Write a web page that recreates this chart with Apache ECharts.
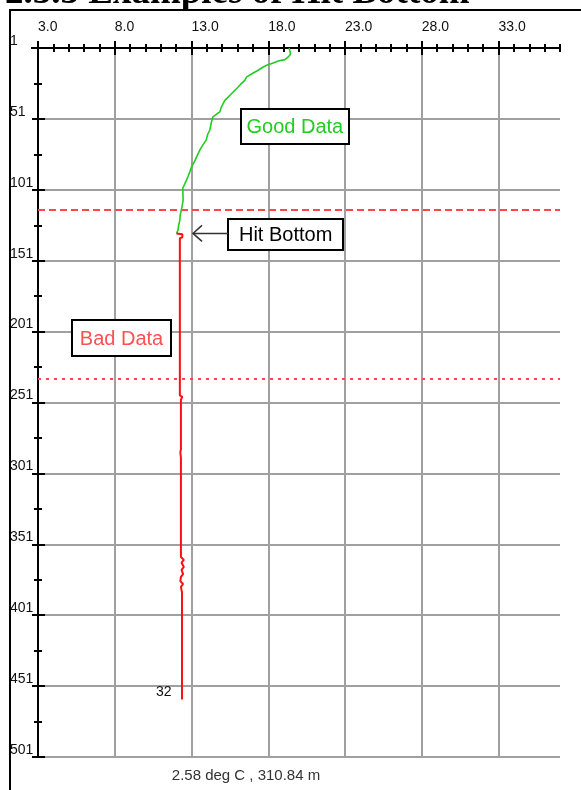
<!DOCTYPE html>
<html><head><meta charset="utf-8">
<script src="https://cdn.jsdelivr.net/npm/echarts@6/dist/echarts.min.js"></script>
<style>html,body{margin:0;padding:0;background:#fff;}#c{width:581px;height:790px;}</style>
</head><body><div id="c"></div>
<script>
// ---------- data ----------
const titleText = '2.3.3 Examples of Hit Bottom';
const readoutText = '2.58 deg C , 310.84 m';
const profileId = '32';
const xMajorTicks = [3, 8, 13, 18, 23, 28, 33];
const xMinorTicks = [3,4,5,6,7,8,9,10,11,12,13,14,15,16,17,18,19,20,21,22,23,24,25,26,27,28,29,30,31,32,33,34,35,36,37];
const yMajorTicks = [1, 51, 101, 151, 201, 251, 301, 351, 401, 451, 501];
const yMinorTicks = [26, 76, 126, 176, 226, 276, 326, 376, 426, 476];
const goodDepth = [1, 5.4, 7.3, 9.2, 10.2, 11.6, 13.2, 14.4, 16.7, 18.6, 21.4, 23.8, 26.5, 28.5, 32, 34.3, 37.9, 39.1, 42.5, 46.1, 49.6, 53, 58.9, 62, 66, 70, 73, 77.8, 81, 84.9, 88, 92, 94.2, 99.9, 104, 108.5, 113, 118.9, 122.4, 126, 129.4, 131.8];
const goodTemp  = [19.36, 19.45, 19.3, 19.08, 18.65, 18.32, 17.89, 17.67, 17.34, 17.02, 16.59, 16.47, 16.2, 16.04, 15.71, 15.5, 15.17, 15.04, 14.95, 14.84, 14.39, 14.3, 14.19, 14.05, 13.95, 13.7, 13.54, 13.33, 13.2, 13.0, 12.9, 12.76, 12.67, 12.43, 12.44, 12.45, 12.38, 12.26, 12.24, 12.16, 12.12, 12.02];
const badDepth = [131.8, 132.3, 134.5, 135.2, 246, 247, 249, 284, 286, 290, 360, 362, 364, 367, 369, 372, 374, 377, 379, 381, 385, 460.5];
const badTemp  = [12.02, 12.4, 12.4, 12.24, 12.24, 12.4, 12.31, 12.31, 12.27, 12.31, 12.31, 12.5, 12.35, 12.5, 12.35, 12.45, 12.31, 12.27, 12.45, 12.31, 12.38, 12.38];
const limitDepths = [115, 234];
const noteLabels = ['Good Data', 'Hit Bottom', 'Bad Data'];
const noteTemp = [19.73, 19.13, 8.44];
const noteDepth = [56.7, 132.8, 205.6];

// ---------- styles ----------
const FONT = 'Arial, "Liberation Sans", sans-serif';
const noteStyle = [
  {color: '#22cc22', w: 108, h: 35, arrow: false},
  {color: '#000000', w: 115, h: 31, arrow: true},
  {color: '#ff5050', w: 99, h: 36, arrow: false}
];

const chart = echarts.init(document.getElementById('c'), null, {renderer: 'canvas'});

function xAx(ticks, inside, len, extra) {
  return Object.assign({
    type: 'value', position: 'top', min: 3, max: 37, gridIndex: 0, z: 3,
    axisLine: {show: false},
    axisTick: {show: true, customValues: ticks, inside: inside, length: len, lineStyle: {color: '#000', width: 2}},
    axisLabel: {show: false}, splitLine: {show: false}
  }, extra || {});
}
function yAx(ticks, inside, len, extra) {
  return Object.assign({
    type: 'value', position: 'left', min: 1, max: 501, inverse: true, gridIndex: 0, z: 3,
    axisLine: {show: false},
    axisTick: {show: true, customValues: ticks, inside: inside, length: len, lineStyle: {color: '#000', width: 2}},
    axisLabel: {show: false}, splitLine: {show: false}
  }, extra || {});
}

const good = goodDepth.map((d, i) => [goodTemp[i], d]);
const bad = badDepth.map((d, i) => [badTemp[i], d]);
const lastBad = bad[bad.length - 1];

const option = {
  backgroundColor: '#ffffff',
  animation: false,
  grid: {left: 38, right: 21, top: 48, bottom: 33, containLabel: false},
  xAxis: [
    xAx(xMajorTicks, false, 7, {
      axisLine: {show: true, lineStyle: {color: '#000', width: 2}},
      axisLabel: {show: true, customValues: xMajorTicks, formatter: v => v.toFixed(1), align: 'left', margin: 14,
        color: '#111', fontSize: 14, fontFamily: FONT}
    }),
    xAx(xMajorTicks, true, 7),
    xAx(xMinorTicks, false, 4),
    xAx(xMinorTicks, true, 4),
    xAx(xMajorTicks.slice(1), false, 0, {z: 0, axisTick: {show: false, customValues: xMajorTicks.slice(1)},
      splitLine: {show: true, lineStyle: {color: '#a0a0a0', width: 2}}})
  ],
  yAxis: [
    yAx(yMajorTicks, false, 6, {
      axisLine: {show: true, lineStyle: {color: '#000', width: 2}},
      axisLabel: {show: true, customValues: yMajorTicks, align: 'left', verticalAlign: 'bottom', lineHeight: 14, margin: 28,
        color: '#111', fontSize: 14, fontFamily: FONT}
    }),
    yAx(yMajorTicks, true, 7),
    yAx(yMinorTicks, false, 4),
    yAx(yMinorTicks, true, 4),
    yAx(yMajorTicks.slice(1), false, 0, {z: 0, axisTick: {show: false, customValues: yMajorTicks.slice(1)},
      splitLine: {show: true, lineStyle: {color: '#a0a0a0', width: 2}}})
  ],
  series: [
    {type: 'line', name: 'good', xAxisIndex: 0, yAxisIndex: 0, data: good, showSymbol: false, symbol: 'none',
      lineStyle: {color: '#22cc22', width: 1.6}, z: 5},
    {type: 'line', name: 'bad', xAxisIndex: 0, yAxisIndex: 0, data: bad, showSymbol: false, symbol: 'none',
      lineStyle: {color: '#ff1010', width: 2}, z: 5,
      markPoint: {silent: true, symbol: 'circle', symbolSize: 1, itemStyle: {color: 'rgba(0,0,0,0)'},
        data: [{coord: lastBad, label: {show: true, formatter: profileId, position: 'left', distance: 10, offset: [0, -7],
          color: '#111', fontSize: 14, fontFamily: FONT}}]},
      markLine: {silent: true, symbol: 'none', label: {show: false},
        data: [
          {yAxis: limitDepths[0], lineStyle: {color: '#ff4848', width: 2, type: [7, 4]}},
          {yAxis: limitDepths[1], lineStyle: {color: '#ff4848', width: 2, type: [3, 5]}}
        ]}}
  ]
};
chart.setOption(option);

// ---------- annotations & page decorations ----------
const g = [];
g.push({type: 'text', z: 50, style: {text: titleText, x: 5, y: 12, verticalAlign: 'bottom', align: 'left',
  font: 'bold 37px "Liberation Serif", "Times New Roman", serif', fill: '#000'}});
g.push({type: 'line', z: 60, shape: {x1: 9, y1: 10, x2: 581, y2: 10}, style: {stroke: '#000', lineWidth: 2}});
g.push({type: 'line', z: 60, shape: {x1: 10, y1: 10, x2: 10, y2: 790}, style: {stroke: '#000', lineWidth: 2}});
const o = chart.convertToPixel({xAxisIndex: 0, yAxisIndex: 0}, [3, 1]);
g.push({type: 'line', z: 60, shape: {x1: o[0] - 7, y1: o[1], x2: o[0], y2: o[1]}, style: {stroke: '#000', lineWidth: 2}});
noteLabels.forEach((t, i) => {
  const c = chart.convertToPixel({xAxisIndex: 0, yAxisIndex: 0}, [noteTemp[i], noteDepth[i]]);
  const s = noteStyle[i];
  g.push({type: 'rect', z: 70, shape: {x: Math.round(c[0] - s.w / 2), y: Math.round(c[1] - s.h / 2), width: s.w, height: s.h},
    style: {fill: '#fff', stroke: '#000', lineWidth: 2}});
  g.push({type: 'text', z: 71, style: {text: t, x: c[0], y: c[1] + 1, align: 'center', verticalAlign: 'middle',
    font: '20px ' + FONT, fill: s.color}});
  if (s.arrow) {
    const lx = Math.round(c[0] - s.w / 2), ay = c[1] - 1.5, tip = lx - 35;
    g.push({type: 'polyline', z: 70, shape: {points: [[lx, ay], [tip, ay]]}, style: {stroke: '#333', lineWidth: 1.5, fill: null}});
    g.push({type: 'polyline', z: 70, shape: {points: [[tip + 9, ay - 8], [tip, ay], [tip + 9, ay + 8]]}, style: {stroke: '#333', lineWidth: 1.5, fill: null}});
  }
});
g.push({type: 'text', z: 50, style: {text: readoutText, x: 246, y: 776, align: 'center', verticalAlign: 'middle',
  font: '15px ' + FONT, fill: '#333'}});
chart.setOption({graphic: g});
</script></body></html>
